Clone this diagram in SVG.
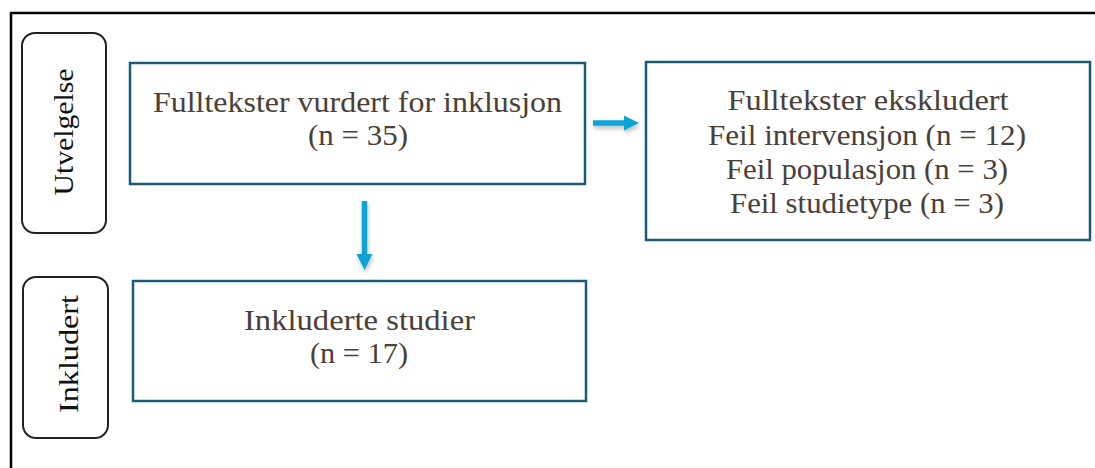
<svg xmlns="http://www.w3.org/2000/svg" width="1095" height="468" viewBox="0 0 1095 468">
<style>
.frame{fill:none;stroke:#000;stroke-width:2.5}
.phase{fill:#fff;stroke:#222;stroke-width:2}
.box{fill:#fff;stroke:#1b5b75;stroke-width:2.5}
.t{font-family:"Liberation Serif","Times New Roman",serif;font-size:30px;fill:#4a4039;text-anchor:middle}
.v{font-family:"Liberation Serif","Times New Roman",serif;font-size:28px;fill:#111;text-anchor:middle}
.arr{stroke:#0aa3d7;stroke-width:5.5;fill:none}
.head{fill:#0aa3d7}
</style>
<defs>
<filter id="sh" x="-30%" y="-30%" width="160%" height="160%">
<feGaussianBlur in="SourceAlpha" stdDeviation="2"/>
<feOffset dx="1" dy="3" result="b"/>
<feComponentTransfer><feFuncA type="linear" slope="0.25"/></feComponentTransfer>
<feMerge><feMergeNode/><feMergeNode in="SourceGraphic"/></feMerge>
</filter>
</defs>
<path class="frame" d="M11,468 V13 H1095"/>
<g id="phase-utvelgelse">
<rect class="phase" x="22" y="33" width="84" height="200" rx="13"/>
<text class="v" transform="translate(73,132) rotate(-90)" textLength="127" lengthAdjust="spacingAndGlyphs">Utvelgelse</text>
</g>
<g id="phase-inkludert">
<rect class="phase" x="23" y="277" width="85" height="161" rx="13"/>
<text class="v" transform="translate(78,354) rotate(-90)" textLength="118" lengthAdjust="spacingAndGlyphs">Inkludert</text>
</g>
<g id="node-fulltekster">
<rect class="box" x="130" y="63" width="455" height="121"/>
<text class="t" x="357.5" y="112" textLength="409" lengthAdjust="spacingAndGlyphs">Fulltekster vurdert for inklusjon</text>
<text class="t" x="358" y="145" textLength="100" lengthAdjust="spacingAndGlyphs">(n = 35)</text>
</g>
<g id="node-ekskludert">
<rect class="box" x="646" y="62" width="444" height="178"/>
<text class="t" x="868" y="110" textLength="281" lengthAdjust="spacingAndGlyphs">Fulltekster ekskludert</text>
<text class="t" x="867" y="145" textLength="318" lengthAdjust="spacingAndGlyphs">Feil intervensjon (n = 12)</text>
<text class="t" x="867" y="179" textLength="282" lengthAdjust="spacingAndGlyphs">Feil populasjon (n = 3)</text>
<text class="t" x="867" y="213" textLength="274" lengthAdjust="spacingAndGlyphs">Feil studietype (n = 3)</text>
</g>
<g id="node-inkluderte">
<rect class="box" x="133" y="281" width="453" height="120"/>
<text class="t" x="359.5" y="330" textLength="231" lengthAdjust="spacingAndGlyphs">Inkluderte studier</text>
<text class="t" x="359" y="363" textLength="98" lengthAdjust="spacingAndGlyphs">(n = 17)</text>
</g>
<g id="connectors" filter="url(#sh)">
<line class="arr" x1="593" y1="123" x2="626" y2="123"/>
<polygon class="head" points="624,115.5 639,123 624,130.5"/>
<line class="arr" x1="364.5" y1="201" x2="364.5" y2="256"/>
<polygon class="head" points="356.5,254 372.5,254 364.5,270"/>
</g>
</svg>
